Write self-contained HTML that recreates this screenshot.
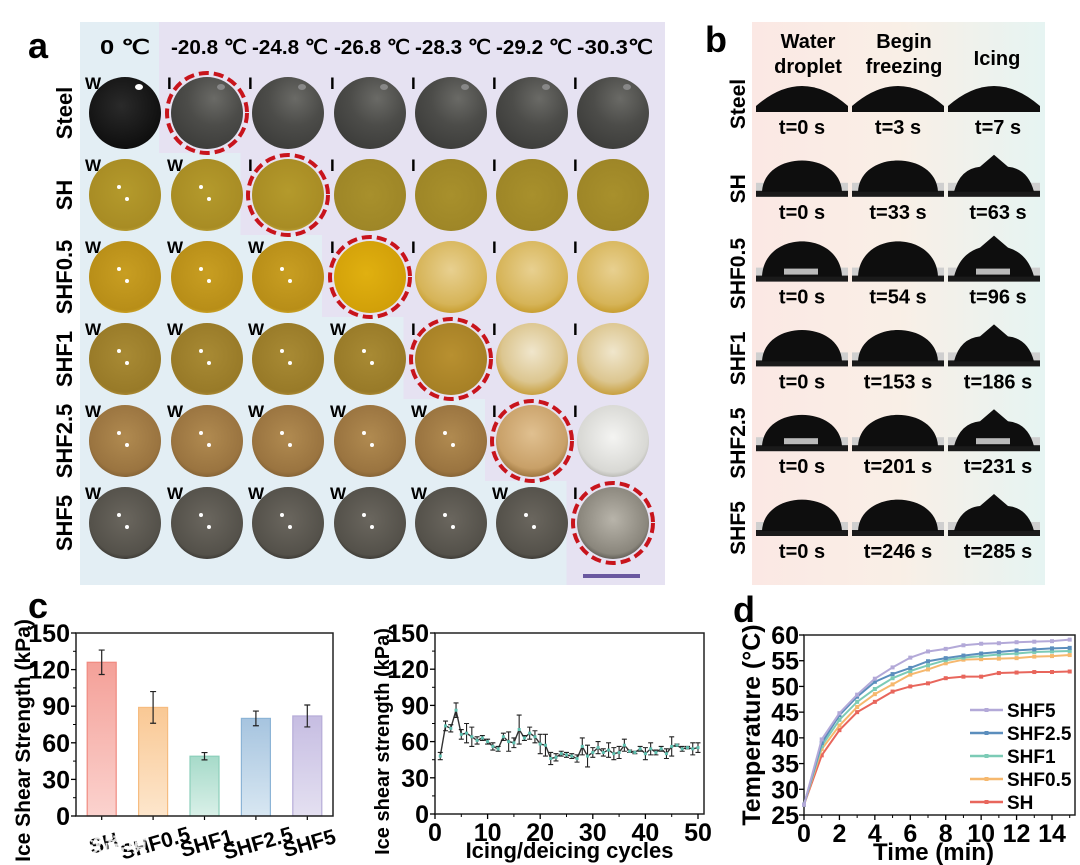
<!DOCTYPE html>
<html><head><meta charset="utf-8"><style>
body{margin:0;background:#fff}
svg{display:block;font-family:"Liberation Sans",Arial,sans-serif;font-weight:bold}
</style></head><body>
<svg id="fig" width="1080" height="865" viewBox="0 0 1080 865" xmlns="http://www.w3.org/2000/svg">
<defs>
<radialGradient id="gSteel0" cx="0.45" cy="0.4" r="0.65"><stop offset="0" stop-color="#2a2a2a"/><stop offset="1" stop-color="#0c0c0c"/></radialGradient>
<radialGradient id="gSteel" cx="0.6" cy="0.3" r="0.75"><stop offset="0" stop-color="#6a6a66"/><stop offset="0.5" stop-color="#4c4c49"/><stop offset="1" stop-color="#3c3c3a"/></radialGradient>
<radialGradient id="gSH" cx="0.5" cy="0.45" r="0.6"><stop offset="0" stop-color="#b49a2c"/><stop offset="0.85" stop-color="#a88c24"/><stop offset="1" stop-color="#c8ac40"/></radialGradient>
<radialGradient id="gSHice" cx="0.5" cy="0.5" r="0.6"><stop offset="0" stop-color="#a8902c"/><stop offset="1" stop-color="#9c8426"/></radialGradient>
<radialGradient id="gF05" cx="0.5" cy="0.45" r="0.6"><stop offset="0" stop-color="#c89e22"/><stop offset="0.85" stop-color="#b88e18"/><stop offset="1" stop-color="#e0b830"/></radialGradient>
<radialGradient id="gF05r" cx="0.45" cy="0.45" r="0.6"><stop offset="0" stop-color="#e0b010"/><stop offset="1" stop-color="#d09e08"/></radialGradient>
<radialGradient id="gF05i" cx="0.5" cy="0.4" r="0.6"><stop offset="0" stop-color="#e8d090"/><stop offset="0.8" stop-color="#d6b458"/><stop offset="1" stop-color="#c89e30"/></radialGradient>
<radialGradient id="gF1" cx="0.5" cy="0.45" r="0.6"><stop offset="0" stop-color="#a88a34"/><stop offset="0.85" stop-color="#987a28"/><stop offset="1" stop-color="#c09a40"/></radialGradient>
<radialGradient id="gF1r" cx="0.5" cy="0.45" r="0.6"><stop offset="0" stop-color="#b89030"/><stop offset="1" stop-color="#a47e24"/></radialGradient>
<radialGradient id="gF1i" cx="0.5" cy="0.4" r="0.6"><stop offset="0" stop-color="#f0e6cc"/><stop offset="0.7" stop-color="#dcc690"/><stop offset="1" stop-color="#c8a040"/></radialGradient>
<radialGradient id="gF25" cx="0.5" cy="0.45" r="0.6"><stop offset="0" stop-color="#b08a50"/><stop offset="0.8" stop-color="#9a7440"/><stop offset="1" stop-color="#7a5a30"/></radialGradient>
<radialGradient id="gF25r" cx="0.5" cy="0.4" r="0.6"><stop offset="0" stop-color="#e0c090"/><stop offset="0.8" stop-color="#c8a068"/><stop offset="1" stop-color="#a07840"/></radialGradient>
<radialGradient id="gF25i" cx="0.5" cy="0.45" r="0.6"><stop offset="0" stop-color="#f4f4f2"/><stop offset="0.8" stop-color="#d8d8d4"/><stop offset="1" stop-color="#a8a8a2"/></radialGradient>
<radialGradient id="gF5" cx="0.5" cy="0.45" r="0.6"><stop offset="0" stop-color="#6a665e"/><stop offset="0.82" stop-color="#54514a"/><stop offset="1" stop-color="#2c2a26"/></radialGradient>
<radialGradient id="gF5r" cx="0.5" cy="0.45" r="0.6"><stop offset="0" stop-color="#b8b4aa"/><stop offset="0.8" stop-color="#8a867c"/><stop offset="1" stop-color="#4a4842"/></radialGradient>
<linearGradient id="bgB" x1="0" x2="1" y1="0" y2="0"><stop offset="0" stop-color="#fbe8e4"/><stop offset="0.5" stop-color="#f9efe6"/><stop offset="1" stop-color="#e6f4f2"/></linearGradient>
<linearGradient id="barSH" x1="0" x2="0" y1="0" y2="1"><stop offset="0" stop-color="#f4a098"/><stop offset="1" stop-color="#fbd2ce"/></linearGradient>
<linearGradient id="barF05" x1="0" x2="0" y1="0" y2="1"><stop offset="0" stop-color="#f9c894"/><stop offset="1" stop-color="#fde6cc"/></linearGradient>
<linearGradient id="barF1" x1="0" x2="0" y1="0" y2="1"><stop offset="0" stop-color="#a6dac9"/><stop offset="1" stop-color="#d9f0e8"/></linearGradient>
<linearGradient id="barF25" x1="0" x2="0" y1="0" y2="1"><stop offset="0" stop-color="#a6c4df"/><stop offset="1" stop-color="#d8e7f2"/></linearGradient>
<linearGradient id="barF5" x1="0" x2="0" y1="0" y2="1"><stop offset="0" stop-color="#c6bde2"/><stop offset="1" stop-color="#e4e0f1"/></linearGradient>
</defs>
</svg>
<script>
// ---------- chart data ----------
const barCats = ["SH","SHF0.5","SHF1","SHF2.5","SHF5"];
const barVals = [126, 89, 49, 80, 82];
const barErrs = [10, 13, 3, 6, 9];
const barFills = ["url(#barSH)","url(#barF05)","url(#barF1)","url(#barF25)","url(#barF5)"];
const barStrokes = ["#f08a80","#f6bc80","#8ccfba","#8cb4d6","#b6acd8"];
const yTicksC = [0,30,60,90,120,150];

const cycles = [1,2,3,4,5,6,7,8,9,10,11,12,13,14,15,16,17,18,19,20,21,22,23,24,25,26,27,28,29,30,31,32,33,34,35,36,37,38,39,40,41,42,43,44,45,46,47,48,49,50];
const cycleVals = [48,73,71,86,66,67,64,61,63,60,56,54,64,60,59,70,63,67,64,58,57,46,47,50,49,48,46,56,48,51,55,51,53,50,51,57,52,51,54,50,54,51,54,50,56,57,54,55,54,55];
const cycleErrs = [3,4,3,6,4,8,8,3,2,2,3,2,3,8,4,12,2,5,5,8,9,5,3,2,2,2,3,7,9,4,5,3,6,5,5,5,1,1,2,5,5,2,2,4,8,1,2,1,5,4];
const xTicksLine = [0,10,20,30,40,50];

const timeMin = [0,1,2,3,4,5,6,7,8,9,10,11,12,13,14,15];
const tSHF5 = [27,39.7,44.8,48.4,51.5,53.7,55.6,56.8,57.3,58,58.3,58.4,58.6,58.7,58.8,59.1];
const tSHF25 = [27,39,44.4,48,50.9,52.4,53.6,54.9,55.5,56,56.4,56.7,57,57.2,57.4,57.5];
const tSHF1 = [27,38.4,43.5,47,49.5,51.6,53,54.1,55.1,55.6,55.9,56.2,56.4,56.7,56.8,56.9];
const tSHF05 = [27,37.8,42.4,46,48.5,50.4,52.3,53.3,54.5,55.2,55.3,55.4,55.5,55.8,55.9,56.1];
const tSH = [27,36.6,41.5,45,47,49,50,50.6,51.6,51.9,51.9,52.6,52.7,52.8,52.8,52.9];
const seriesNames = ["SHF5","SHF2.5","SHF1","SHF0.5","SH"];
const seriesColors = ["#b3a9d8","#5b8ebd","#7ccbb6","#f6b86e","#e8665c"];
const xTicksD = [0,2,4,6,8,10,12,14];
const yTicksD = [25,30,35,40,45,50,55,60];

const NS="http://www.w3.org/2000/svg";
const svg=document.getElementById('fig');
function mk(tag,attrs,parent){const e=document.createElementNS(NS,tag);for(const k in attrs)e.setAttribute(k,attrs[k]);(parent||svg).appendChild(e);return e;}
function txt(s,attrs,parent){const e=mk('text',attrs,parent);e.textContent=s;return e;}

// ---------- panel a ----------
const gA=mk('g',{});


const aCols=[125,207,288,370,451,532,613];
const aRows=[113,195,277,359,441,523];
const temps=["0 ℃","-20.8 ℃","-24.8 ℃","-26.8 ℃","-28.3 ℃","-29.2 ℃","-30.3℃"];
const rowNames=["Steel","SH","SHF0.5","SHF1","SHF2.5","SHF5"];
mk('rect',{x:80,y:22,width:585,height:563,fill:"#e6e2f2"},gA);
const rowTop=[22,153,235,317,399,481], rowBot=[153,235,317,399,481,585];
for(let r=0;r<6;r++){
  const xEnd=159+81.5*r;
  const br=mk('rect',{x:80,y:rowTop[r],width:xEnd-80,height:rowBot[r]-rowTop[r],fill:"#e3eef4"},gA);
  
  
}
txt("a",{x:28,y:58,"font-size":36,fill:"#000"},gA);
temps.forEach((t,i)=>{const e=txt(t,{x:aCols[i]+(i==0?0:2),y:54,"font-size":20,"text-anchor":"middle",fill:"#000",textLength:i==0?50:76,lengthAdjust:"spacingAndGlyphs"},gA);
  });
const fills=[
 ["url(#gSteel0)","url(#gSteel)","url(#gSteel)","url(#gSteel)","url(#gSteel)","url(#gSteel)","url(#gSteel)"],
 ["url(#gSH)","url(#gSH)","url(#gSH)","url(#gSHice)","url(#gSHice)","url(#gSHice)","url(#gSHice)"],
 ["url(#gF05)","url(#gF05)","url(#gF05)","url(#gF05r)","url(#gF05i)","url(#gF05i)","url(#gF05i)"],
 ["url(#gF1)","url(#gF1)","url(#gF1)","url(#gF1)","url(#gF1r)","url(#gF1i)","url(#gF1i)"],
 ["url(#gF25)","url(#gF25)","url(#gF25)","url(#gF25)","url(#gF25)","url(#gF25r)","url(#gF25i)"],
 ["url(#gF5)","url(#gF5)","url(#gF5)","url(#gF5)","url(#gF5)","url(#gF5)","url(#gF5r)"]];
for(let r=0;r<6;r++){
  const rl=txt(rowNames[r],{x:0,y:0,"font-size":22,"text-anchor":"middle",fill:"#000",transform:`translate(72,${aRows[r]}) rotate(-90)`},gA);
  
  for(let c=0;c<7;c++){
    const cx=aCols[c],cy=aRows[r];
    const circ=mk('circle',{cx:cx,cy:cy,r:36,fill:fills[r][c]},gA);
    
    
    const frozen=c>r;
    if(!frozen && r>0){mk('circle',{cx:cx-6,cy:cy-8,r:2,fill:"#fff"},gA);mk('circle',{cx:cx+2,cy:cy+4,r:2,fill:"#fff"},gA);}
    if(r==0){mk('ellipse',{cx:cx+14,cy:cy-26,rx:4,ry:3,fill:c==0?"#fff":"#888"},gA);}
    const lab=txt(frozen?"I":"W",{x:cx-40,y:cy-24,"font-size":17,fill:"#000"},gA);
    
    if(c==r+1){const d=mk('circle',{cx:cx,cy:cy,r:40,fill:"none",stroke:"#c8141c","stroke-width":4,"stroke-dasharray":"10 5"},gA);
      }
  }
}
mk('rect',{x:583,y:574,width:57,height:4,fill:"#6a58a0"},gA);

// ---------- panel b ----------
const gB=mk('g',{});


mk('rect',{x:752,y:22,width:293,height:563,fill:"url(#bgB)"},gB);
txt("b",{x:705,y:52,"font-size":36,fill:"#000"},gB);
[["Water","droplet",808],["Begin","freezing",904]].forEach(h=>{
  txt(h[0],{x:h[2],y:48,"font-size":20,"text-anchor":"middle",fill:"#000"},gB);
  txt(h[1],{x:h[2],y:73,"font-size":20,"text-anchor":"middle",fill:"#000"},gB);
});
txt("Icing",{x:997,y:65,"font-size":20,"text-anchor":"middle",fill:"#000"},gB);
const times=[["t=0 s","t=3 s","t=7 s"],["t=0 s","t=33 s","t=63 s"],["t=0 s","t=54 s","t=96 s"],["t=0 s","t=153 s","t=186 s"],["t=0 s","t=201 s","t=231 s"],["t=0 s","t=246 s","t=285 s"]];
const bCols=[802,898,994];
for(let r=0;r<6;r++){
  const ly=127+84.8*r, base=ly-15;
  const rl=txt(rowNames[r],{x:0,y:0,"font-size":21,"text-anchor":"middle",fill:"#000",transform:`translate(745,${base-8}) rotate(-90)`},gB);
  
  for(let c=0;c<3;c++){
    const cx=bCols[c];
    const g=mk('g',{},gB);
    
    
    if(r==0){
      mk('path',{d:`M${cx-46},${base} L${cx-46},${base-6} Q${cx},${base-46} ${cx+46},${base-6} L${cx+46},${base} Z`,fill:"#0e0e0e"},g);
    } else {
      mk('rect',{x:cx-46,y:base-14,width:92,height:14,fill:"#cfcfcf"},g);
      mk('rect',{x:cx-46,y:base-6,width:92,height:6,fill:"#1a1a1a"},g);
      const h=r==2?40:36;
      if(c==2){
        mk('path',{d:`M${cx-40},${base-5} Q${cx-34},${base-28} ${cx-14},${base-h+6} L${cx},${base-h-6} L${cx+14},${base-h+6} Q${cx+34},${base-28} ${cx+40},${base-5} Z`,fill:"#0e0e0e"},g);
      } else {
        mk('path',{d:`M${cx-40},${base-5} C${cx-38},${base-h*1.3} ${cx+38},${base-h*1.3} ${cx+40},${base-5} Z`,fill:"#0e0e0e"},g);
      }
      if((r==2||r==4)&&c!=1) mk('rect',{x:cx-18,y:base-13,width:34,height:6,fill:"#d8d8d8",opacity:0.85},g);
    }
    const t=txt(times[r][c],{x:cx+(c==2?4:0),y:ly+7,"font-size":20,"text-anchor":"middle",fill:"#000"},gB);
    
  }
}

// ---------- panel c left: bar chart ----------
const gC=mk('g',{});


txt("c",{x:28,y:618,"font-size":36,fill:"#000"},gC);
const cL=76,cR=333,cT=633,cB=816;
const yC=v=>cB-(v/150)*(cB-cT);
const bandW=(cR-cL)/barCats.length;
const xBar=i=>cL+bandW*(i+0.5);
barCats.forEach((cat,i)=>{
  const x=xBar(i),w=29,y=yC(barVals[i]);
  const b=mk('rect',{x:x-w/2,y:y,width:w,height:cB-y,fill:barFills[i],stroke:barStrokes[i],"stroke-width":1.2},gC);
  
  
  const y1=yC(barVals[i]+barErrs[i]),y2=yC(barVals[i]-barErrs[i]);
  const eb=mk('path',{d:`M${x},${y1}V${y2}M${x-3},${y1}H${x+3}M${x-3},${y2}H${x+3}`,stroke:"#222","stroke-width":1.2,fill:"none"},gC);
  
  mk('line',{x1:x,y1:cB,x2:x,y2:cB+4,stroke:"#000","stroke-width":1.2},gC);
  const lb=txt(cat,{x:0,y:0,"font-size":21,"text-anchor":"middle",fill:"#000",transform:`translate(${x+4},${cB+34}) rotate(-16)`},gC);
  
});
mk('rect',{x:cL,y:cT,width:cR-cL,height:cB-cT,fill:"none",stroke:"#222","stroke-width":1.5},gC);
yTicksC.forEach(v=>{const y=yC(v);mk('line',{x1:cL-5,y1:y,x2:cL,y2:y,stroke:"#000","stroke-width":1.3},gC);
  if(v<150)mk('line',{x1:cL-3,y1:yC(v+15),x2:cL,y2:yC(v+15),stroke:"#000","stroke-width":1},gC);
  const t=txt(String(v),{x:cL-6,y:y+9,"font-size":25,"text-anchor":"end",fill:"#000"},gC);
  });
txt("Ice Shear Strength (kPa)",{x:0,y:0,"font-size":21,"text-anchor":"middle",fill:"#000",transform:`translate(30,${(cT+cB)/2+16}) rotate(-90)`},gC);
txt("大数跨境",{x:60,y:852,"font-size":22,fill:"#ffffff",opacity:0.85,"font-family":"\"Liberation Sans\",\"Noto Sans CJK SC\",sans-serif"},gC);

// ---------- panel c right: cycles line chart ----------
const gL=mk('g',{});


const lL=435,lR=704,lT=633,lB=814;
const xL=v=>lL+(v/50)*(698-lL);
const yL=v=>lB-(v/150)*(lB-lT);
mk('rect',{x:lL,y:lT,width:lR-lL,height:lB-lT,fill:"none",stroke:"#222","stroke-width":1.5},gL);
let dl="";cycles.forEach((c,i)=>{dl+=(i?"L":"M")+xL(c)+","+yL(cycleVals[i]);});
const ln=mk('path',{d:dl,fill:"none",stroke:"#333","stroke-width":1.4},gL);

cycles.forEach((c,i)=>{
  const x=xL(c),y1=yL(cycleVals[i]+cycleErrs[i]),y2=yL(cycleVals[i]-cycleErrs[i]);
  const eb=mk('path',{d:`M${x},${y1}V${y2}M${x-2.5},${y1}H${x+2.5}M${x-2.5},${y2}H${x+2.5}`,stroke:"#222","stroke-width":1.1,fill:"none"},gL);
  
  const p=mk('rect',{x:x-1.5,y:yL(cycleVals[i])-1.5,width:3,height:3,fill:"#5fc0b0"},gL);
  
});
yTicksC.forEach(v=>{const y=yL(v);mk('line',{x1:lL-5,y1:y,x2:lL,y2:y,stroke:"#000","stroke-width":1.3},gL);
  if(v<150)mk('line',{x1:lL-3,y1:yL(v+15),x2:lL,y2:yL(v+15),stroke:"#000","stroke-width":1},gL);
  const t=txt(String(v),{x:lL-6,y:y+9,"font-size":25,"text-anchor":"end",fill:"#000"},gL);
  });
xTicksLine.forEach(v=>{const x=xL(v);mk('line',{x1:x,y1:lB,x2:x,y2:lB+5,stroke:"#000","stroke-width":1.3},gL);
  if(v<50)mk('line',{x1:xL(v+5),y1:lB,x2:xL(v+5),y2:lB+3,stroke:"#000","stroke-width":1},gL);
  const t=txt(String(v),{x:x,y:lB+27,"font-size":25,"text-anchor":"middle",fill:"#000"},gL);
  });
txt("Icing/deicing cycles",{x:(lL+lR)/2,y:858,"font-size":22,"text-anchor":"middle",fill:"#000"},gL);
txt("Ice shear strength (kPa)",{x:0,y:0,"font-size":20,"text-anchor":"middle",fill:"#000",transform:`translate(389,${(lT+lB)/2+18}) rotate(-90)`},gL);

// ---------- panel d ----------
const gD=mk('g',{});


txt("d",{x:733,y:622,"font-size":36,fill:"#000"},gD);
const dL=804,dR=1075,dT=635,dB=815;
const xD=v=>dL+(v/14)*(1052-dL);
const yD=v=>dB-((v-25)/35)*(dB-dT);
mk('rect',{x:dL,y:dT,width:dR-dL,height:dB-dT,fill:"none",stroke:"#222","stroke-width":1.5},gD);
const allSeries=[tSHF5,tSHF25,tSHF1,tSHF05,tSH];
allSeries.slice().reverse().forEach((s,ri)=>{
  const si=allSeries.length-1-ri;
  let d="";timeMin.forEach((t,i)=>{d+=(i?"L":"M")+xD(t)+","+yD(s[i]);});
  const p=mk('path',{d:d,fill:"none",stroke:seriesColors[si],"stroke-width":2},gD);
  
  
  timeMin.forEach((t,i)=>{const m=mk('rect',{x:xD(t)-2,y:yD(s[i])-2,width:4,height:4,fill:seriesColors[si]},gD);
    });
});
xTicksD.forEach(v=>{const x=xD(v);mk('line',{x1:x,y1:dB,x2:x,y2:dB+5,stroke:"#000","stroke-width":1.3},gD);
  mk('line',{x1:xD(v+1),y1:dB,x2:xD(v+1),y2:dB+3,stroke:"#000","stroke-width":1},gD);
  const t=txt(String(v),{x:x,y:dB+27,"font-size":25,"text-anchor":"middle",fill:"#000"},gD);
  });
yTicksD.forEach(v=>{const y=yD(v);mk('line',{x1:dL-5,y1:y,x2:dL,y2:y,stroke:"#000","stroke-width":1.3},gD);
  const t=txt(String(v),{x:dL-5,y:y+9,"font-size":25,"text-anchor":"end",fill:"#000"},gD);
  });
txt("Time (min)",{x:(dL+dR)/2-6,y:860,"font-size":24,"text-anchor":"middle",fill:"#000"},gD);
txt("Temperature (°C)",{x:0,y:0,"font-size":25,"text-anchor":"middle",fill:"#000",transform:`translate(760,${(dT+dB)/2}) rotate(-90)`},gD);
seriesNames.forEach((n,i)=>{
  const y=710+23*i;
  const g=mk('g',{},gD);
  
  
  mk('line',{x1:970,y1:y,x2:1003,y2:y,stroke:seriesColors[i],"stroke-width":2.5},g);
  mk('rect',{x:984.5,y:y-2,width:4,height:4,fill:seriesColors[i]},g);
  txt(n,{x:1007,y:y+7,"font-size":19,fill:"#000"},g);
});
</script>
</body></html>
